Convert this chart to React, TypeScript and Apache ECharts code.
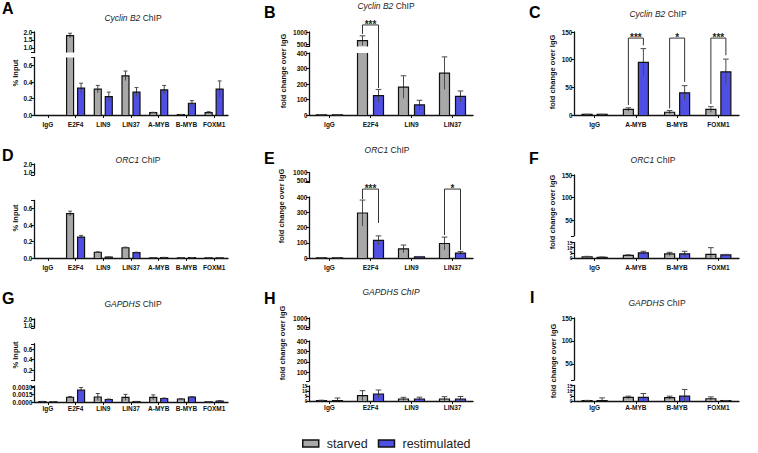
import React, { useEffect, useRef } from "react";
import * as echarts from "echarts";

// ---------- categories ----------
const catsAll = ["IgG", "E2F4", "LIN9", "LIN37", "A-MYB", "B-MYB", "FOXM1"];
const catsE2F = ["IgG", "E2F4", "LIN9", "LIN37"];
const catsMyb = ["IgG", "A-MYB", "B-MYB", "FOXM1"];

// ---------- A: Cyclin B2 ChIP, % input ----------
const aStarved = [0, 1.77, 0.315, 0.477, 0.028, 0.005, 0.03];
const aStarvedErr = [0, 0.15, 0.045, 0.058, 0.005, 0.002, 0.01];
const aRestim = [0, 0.327, 0.224, 0.278, 0.306, 0.143, 0.315];
const aRestimErr = [0, 0.06, 0.055, 0.056, 0.054, 0.032, 0.1];

// ---------- B: Cyclin B2 ChIP, fold change (E2F4 / MuvB) ----------
const bStarved = [1, 640, 180, 270];
const bStarvedErr = [0.3, 200, 73, 105];
const bRestim = [1, 125, 65, 120];
const bRestimErr = [0.3, 40, 30, 35];
const bBrackets = [[1, 523, 174, 581]];
const bStars = ["***"];

// ---------- C: Cyclin B2 ChIP, fold change (MYB / FOXM1) ----------
const cStarved = [1, 10, 5, 10];
const cStarvedErr = [0.3, 3, 3, 5];
const cRestim = [1, 95, 40, 78];
const cRestimErr = [0.3, 25, 13, 23];
const cBrackets = [
  [1, 18, 126, 139],
  [2, 12, 60, 139],
  [3, 20, 108, 139],
];
const cStars = ["***", "*", "***"];

// ---------- D: ORC1 ChIP, % input ----------
const dStarved = [0, 0.54, 0.07, 0.125, 0.002, 0.002, 0.002];
const dStarvedErr = [0, 0.03, 0.005, 0.007, 0.001, 0.001, 0.001];
const dRestim = [0, 0.255, 0.01, 0.065, 0.006, 0.004, 0.001];
const dRestimErr = [0, 0.02, 0.003, 0.006, 0.002, 0.001, 0.001];

// ---------- E: ORC1 ChIP, fold change ----------
const eStarved = [1, 295, 60, 95];
const eStarvedErr = [0.3, 85, 25, 42];
const eRestim = [1, 115, 8, 32];
const eRestimErr = [0.3, 30, 2, 10];
const eBrackets = [
  [1, 387, 230, 452],
  [3, 151, 52, 452],
];
const eStars = ["***", "*"];

// ---------- F: ORC1 ChIP, fold change (MYB / FOXM1) ----------
const fStarved = [1, 2.6, 4, 3.5];
const fStarvedErr = [0.6, 0.5, 1.5, 6.5];
const fRestim = [0.7, 5, 4, 3];
const fRestimErr = [0.3, 1.5, 2.5, 0.5];

// ---------- G: GAPDHS ChIP, % input ----------
const gStarved = [0.0001, 0.00095, 0.001, 0.00093, 0.00093, 0.0006, 0.00003];
const gStarvedErr = [0.00003, 0.00015, 0.0007, 0.0006, 0.0005, 0.0001, 0.00001];
const gRestim = [0.00005, 0.0024, 0.0005, 0.0001, 0.0007, 0.001, 0.0002];
const gRestimErr = [0.00002, 0.0005, 0.0001, 0.00003, 0.0001, 0.0001, 0.0001];

// ---------- H: GAPDHS ChIP, fold change ----------
const hStarved = [0.5, 5.3, 2, 2];
const hStarvedErr = [0.3, 5, 1.7, 2.3];
const hRestim = [0.5, 7, 2, 2];
const hRestimErr = [2.5, 4, 1.8, 2.5];

// ---------- I: GAPDHS ChIP, fold change (MYB / FOXM1) ----------
const iStarved = [0.4, 3.5, 3.2, 2.2];
const iStarvedErr = [0.2, 1.2, 1.5, 1.8];
const iRestim = [0.4, 3.5, 4.7, 0.3];
const iRestimErr = [2.6, 3.7, 6.5, 0.2];

// ---------- tick labels ----------
const ticksPctHigh = [1.0, 1.5, 2.0];
const ticksPctLow = [0, 0.2, 0.4, 0.6];
const ticksPctMid = [0.2, 0.4, 0.6];
const ticksPctTiny = [0, 0.0015, 0.003];
const ticksFoldHigh = [500, 750, 1000];
const ticksFoldLow = [0, 100, 200, 300, 400];
const ticksFoldMid = [100, 200, 300, 400];
const ticksMyb = [0, 50, 100, 150];
const ticksMybHigh = [50, 100, 150];
const ticksSmall = [0, 5, 10, 15];

const FONT = "'Liberation Sans', Arial, Helvetica, sans-serif";
const GRAY = "#a8a8a8";
const BLUE = "#4f4fe4";
const INK = "#111111";
const ERR = "#4a4a4a";
const TXT = "#222222";
const TITLE_SIZE = 8.5;

type Seg = { min: number; max: number; top: number; height: number; ticks: number[]; dec: number; small?: boolean };
type Panel = {
  left: number; width: number; cats: string[];
  s: number[]; se: number[]; r: number[]; re: number[];
  barW: number; gap: number; xMargin: number; segs: Seg[];
  brackets?: { seg: number; data: number[][]; stars: string[] };
};

const panels: Panel[] = [
  { left: 34, width: 194, cats: catsAll, s: aStarved, se: aStarvedErr, r: aRestim, re: aRestimErr, barW: 7, gap: 4, xMargin: 5.5,
    segs: [
      { min: 0.7, max: 2.0, top: 32, height: 20.5, ticks: ticksPctHigh, dec: 1 },
      { min: 0, max: 0.7, top: 57.5, height: 57.5, ticks: ticksPctLow, dec: 1 },
    ] },
  { left: 309, width: 164, cats: catsE2F, s: bStarved, se: bStarvedErr, r: bRestim, re: bRestimErr, barW: 10, gap: 6, xMargin: 5.5,
    segs: [
      { min: 400, max: 1000, top: 32, height: 14.4, ticks: ticksFoldHigh, dec: 0 },
      { min: 0, max: 400, top: 53, height: 62, ticks: ticksFoldLow, dec: 0 },
    ],
    brackets: { seg: 1, data: bBrackets, stars: bStars } },
  { left: 574, width: 165, cats: catsMyb, s: cStarved, se: cStarvedErr, r: cRestim, re: cRestimErr, barW: 10, gap: 5, xMargin: 5.5,
    segs: [{ min: 0, max: 150, top: 32, height: 83, ticks: ticksMyb, dec: 0 }],
    brackets: { seg: 0, data: cBrackets, stars: cStars } },
  { left: 34, width: 194, cats: catsAll, s: dStarved, se: dStarvedErr, r: dRestim, re: dRestimErr, barW: 7, gap: 4, xMargin: 5.5,
    segs: [
      { min: 0.7, max: 2.0, top: 164, height: 11, ticks: ticksPctHigh, dec: 1 },
      { min: 0, max: 0.7, top: 200.5, height: 57.5, ticks: ticksPctLow, dec: 1 },
    ] },
  { left: 309, width: 164, cats: catsE2F, s: eStarved, se: eStarvedErr, r: eRestim, re: eRestimErr, barW: 10, gap: 6, xMargin: 5.5,
    segs: [
      { min: 400, max: 1000, top: 172.5, height: 10, ticks: ticksFoldHigh, dec: 0 },
      { min: 0, max: 400, top: 197, height: 61, ticks: ticksFoldLow, dec: 0 },
    ],
    brackets: { seg: 1, data: eBrackets, stars: eStars } },
  { left: 574, width: 165, cats: catsMyb, s: fStarved, se: fStarvedErr, r: fRestim, re: fRestimErr, barW: 10, gap: 5, xMargin: 5.5,
    segs: [
      { min: 15, max: 150, top: 175, height: 60.75, ticks: ticksMybHigh, dec: 0 },
      { min: 0, max: 15, top: 242.5, height: 15.5, ticks: ticksSmall, dec: 0, small: true },
    ] },
  { left: 34, width: 194, cats: catsAll, s: gStarved, se: gStarvedErr, r: gRestim, re: gRestimErr, barW: 7, gap: 4, xMargin: 3,
    segs: [
      { min: 0.7, max: 2.0, top: 319, height: 9, ticks: ticksPctHigh, dec: 1 },
      { min: 0.003, max: 0.7, top: 343.75, height: 36.75, ticks: ticksPctMid, dec: 1 },
      { min: 0, max: 0.0032, top: 386, height: 16, ticks: ticksPctTiny, dec: 4 },
    ] },
  { left: 309, width: 164, cats: catsE2F, s: hStarved, se: hStarvedErr, r: hRestim, re: hRestimErr, barW: 10, gap: 6, xMargin: 3,
    segs: [
      { min: 400, max: 1000, top: 318, height: 11, ticks: ticksFoldHigh, dec: 0 },
      { min: 15, max: 400, top: 341, height: 40, ticks: ticksFoldMid, dec: 0 },
      { min: 0, max: 15, top: 386, height: 15, ticks: ticksSmall, dec: 0, small: true },
    ] },
  { left: 574, width: 165, cats: catsMyb, s: iStarved, se: iStarvedErr, r: iRestim, re: iRestimErr, barW: 10, gap: 5, xMargin: 3,
    segs: [
      { min: 15, max: 150, top: 318, height: 62, ticks: ticksMybHigh, dec: 0 },
      { min: 0, max: 15, top: 385.5, height: 15.5, ticks: ticksSmall, dec: 0, small: true },
    ] },
];

const letters = [
  { t: "A", x: 2, y: 0 }, { t: "B", x: 264, y: 4 }, { t: "C", x: 529, y: 4 },
  { t: "D", x: 2, y: 147 }, { t: "E", x: 264, y: 150 }, { t: "F", x: 529, y: 150 },
  { t: "G", x: 2, y: 290 }, { t: "H", x: 264, y: 290 }, { t: "I", x: 530, y: 289 },
];

const titles = [
  { gene: "Cyclin B2", x: 133, y: 18, allItalic: false },
  { gene: "Cyclin B2", x: 386, y: 6, allItalic: false },
  { gene: "Cyclin B2", x: 658, y: 14, allItalic: false },
  { gene: "ORC1", x: 138, y: 160, allItalic: false },
  { gene: "ORC1", x: 387, y: 150, allItalic: false },
  { gene: "ORC1", x: 653, y: 160, allItalic: false },
  { gene: "GAPDHS", x: 133, y: 304, allItalic: false },
  { gene: "GAPDHS", x: 391, y: 292, allItalic: true },
  { gene: "GAPDHS", x: 657, y: 303, allItalic: false },
];

const yNames = [
  { t: "% Input", x: 15, y: 73 }, { t: "fold change over IgG", x: 283, y: 71 }, { t: "fold change over IgG", x: 552, y: 72 },
  { t: "% Input", x: 15, y: 218 }, { t: "fold change over IgG", x: 281, y: 206 }, { t: "fold change over IgG", x: 552, y: 212 },
  { t: "% Input", x: 15, y: 355 }, { t: "fold change over IgG", x: 282, y: 343 }, { t: "fold change over IgG", x: 553, y: 361 },
];

let measureCtx: CanvasRenderingContext2D | null = null;
function textWidth(text: string, italic: boolean): number {
  if (!measureCtx) measureCtx = document.createElement("canvas").getContext("2d");
  if (!measureCtx) return text.length * TITLE_SIZE * 0.5;
  measureCtx.font = `${italic ? "italic " : ""}${TITLE_SIZE}px ${FONT}`;
  return measureCtx.measureText(text).width;
}

function makeBar(sign: number, p: Panel, sg: Seg, fill: string) {
  return (params: any, api: any) => {
    const cs = params.coordSys;
    const i = api.value(0);
    const v = api.value(1);
    const e = api.value(2);
    const y0 = cs.y;
    const y1 = cs.y + cs.height;
    const base = api.coord([i, 0]);
    const cx = base[0] + (sign * (p.barW + p.gap)) / 2;
    const l = cx - p.barW / 2;
    const r = cx + p.barW / 2;
    const children: any[] = [];
    const borders: any[] = [];
    if (v > 0 && v > sg.min) {
      const yv = api.coord([i, v])[1];
      const top = Math.max(yv, y0);
      const bot = y1;
      children.push({ type: "rect", shape: { x: l, y: top, width: p.barW, height: Math.max(bot - top, 0) }, style: { fill } });
      if (v <= sg.max) {
        borders.push({ type: "polyline", shape: { points: [[l, bot], [l, top], [r, top], [r, bot]] }, style: { stroke: INK, lineWidth: 1.2, fill: "none" } });
      } else {
        borders.push({ type: "line", shape: { x1: l, y1: top, x2: l, y2: bot }, style: { stroke: INK, lineWidth: 1.2 } });
        borders.push({ type: "line", shape: { x1: r, y1: top, x2: r, y2: bot }, style: { stroke: INK, lineWidth: 1.2 } });
      }
    }
    if (e > 0) {
      const hi = v + e;
      const lo = Math.max(v - e, 0);
      if (hi > sg.min && lo < sg.max) {
        const yHi = api.coord([i, Math.min(hi, sg.max)])[1];
        const yLo = api.coord([i, Math.max(lo, sg.min)])[1];
        if (yLo > yHi) {
          children.push({ type: "line", shape: { x1: cx, y1: yHi, x2: cx, y2: yLo }, style: { stroke: ERR, lineWidth: 1 } });
        }
      }
      if (hi > sg.min && hi <= sg.max) {
        const yCap = api.coord([i, hi])[1];
        const cw = p.barW * 0.28;
        borders.push({ type: "line", shape: { x1: cx - cw, y1: yCap, x2: cx + cw, y2: yCap }, style: { stroke: ERR, lineWidth: 1 } });
      }
    }
    return { type: "group", children: children.concat(borders) };
  };
}

function makeBracket(p: Panel, stars: string[]) {
  return (params: any, api: any) => {
    const i = api.value(0);
    const lv = api.value(1);
    const rv = api.value(2);
    const bv = api.value(3);
    const c = api.coord([i, bv]);
    const yB = c[1];
    const yL = api.coord([i, lv])[1];
    const yR = api.coord([i, rv])[1];
    const half = (p.barW + p.gap) / 2;
    const xL = c[0] - half;
    const xR = c[0] + half;
    return {
      type: "group",
      children: [
        { type: "polyline", shape: { points: [[xL, yL], [xL, yB], [xR, yB], [xR, yR]] }, style: { stroke: "#333", lineWidth: 1, fill: "none" } },
        { type: "text", style: { text: stars[params.dataIndex], x: c[0], y: yB - 0.5, align: "center", verticalAlign: "middle", fontSize: 10, fontWeight: "bold", fill: TXT, fontFamily: FONT } },
      ],
    };
  };
}

function buildOption() {
  const grid: any[] = [];
  const xAxis: any[] = [];
  const yAxis: any[] = [];
  const series: any[] = [];
  panels.forEach((p) => {
    const n = p.segs.length;
    p.segs.forEach((sg, si) => {
      const gi = grid.length;
      const isLast = si === n - 1;
      const isFirst = si === 0;
      grid.push({ left: p.left, top: sg.top, width: p.width, height: sg.height });
      xAxis.push({
        gridIndex: gi, type: "category", data: p.cats, show: isLast, boundaryGap: true,
        axisLine: { onZero: false, lineStyle: { color: INK, width: 1.3 } },
        axisTick: { show: true, alignWithLabel: true, length: 3, lineStyle: { color: INK, width: 1 } },
        axisLabel: { interval: 0, fontSize: 6.5, fontWeight: "bold", color: INK, fontFamily: FONT, margin: p.xMargin },
        splitLine: { show: false },
      });
      const tickVals = [...sg.ticks];
      if (!isLast && !tickVals.includes(sg.min)) tickVals.push(sg.min);
      if (!isFirst && !tickVals.includes(sg.max)) tickVals.push(sg.max);
      yAxis.push({
        gridIndex: gi, type: "value", min: sg.min, max: sg.max,
        axisLine: { show: true, onZero: false, lineStyle: { color: INK, width: 1.3 } },
        axisTick: { show: true, length: 3, customValues: tickVals, lineStyle: { color: INK, width: 1 } },
        axisLabel: {
          customValues: sg.ticks,
          showMinLabel: true, showMaxLabel: true, hideOverlap: false,
          formatter: (v: number) => Number(v).toFixed(sg.dec),
          fontSize: sg.small ? 5 : 6.5, fontWeight: "bold", color: INK, fontFamily: FONT, margin: 1.5,
        },
        splitLine: { show: false },
      });
      series.push({
        type: "custom", name: "starved", coordinateSystem: "cartesian2d", xAxisIndex: gi, yAxisIndex: gi,
        data: p.cats.map((_, i) => [i, p.s[i], p.se[i]]), encode: { x: 0, y: 1 },
        renderItem: makeBar(-1, p, sg, GRAY), silent: true, itemStyle: { color: GRAY },
      });
      series.push({
        type: "custom", name: "restimulated", coordinateSystem: "cartesian2d", xAxisIndex: gi, yAxisIndex: gi,
        data: p.cats.map((_, i) => [i, p.r[i], p.re[i]]), encode: { x: 0, y: 1 },
        renderItem: makeBar(1, p, sg, BLUE), silent: true, itemStyle: { color: BLUE },
      });
      if (p.brackets && p.brackets.seg === si) {
        series.push({
          type: "custom", name: "sig", coordinateSystem: "cartesian2d", xAxisIndex: gi, yAxisIndex: gi,
          data: p.brackets.data, encode: { x: 0, y: 3 }, clip: false,
          renderItem: makeBracket(p, p.brackets.stars), silent: true,
        });
      }
    });
  });

  const graphic: any[] = [];
  letters.forEach((l) => {
    graphic.push({ type: "text", x: l.x, y: l.y, style: { text: l.t, fontSize: 16, fontWeight: "bold", fill: "#000", fontFamily: FONT, verticalAlign: "top" } });
  });
  titles.forEach((t) => {
    const part1 = t.allItalic ? `${t.gene} ChIP` : t.gene;
    const part2 = t.allItalic ? "" : " ChIP";
    const w1 = textWidth(part1, true);
    const w2 = part2 ? textWidth(part2, false) : 0;
    const x0 = t.x - (w1 + w2) / 2;
    graphic.push({
      type: "text", x: x0, y: t.y,
      style: { text: part1, align: "left", verticalAlign: "middle", fontSize: TITLE_SIZE, fontStyle: "italic", fill: TXT, fontFamily: FONT },
    });
    if (part2) {
      graphic.push({
        type: "text", x: x0 + w1, y: t.y,
        style: { text: part2, align: "left", verticalAlign: "middle", fontSize: TITLE_SIZE, fill: TXT, fontFamily: FONT },
      });
    }
  });
  yNames.forEach((n) => {
    graphic.push({
      type: "text", x: n.x, y: n.y, rotation: Math.PI / 2,
      style: { text: n.t, align: "center", verticalAlign: "middle", fontSize: 7.5, fontWeight: "bold", fill: INK, fontFamily: FONT },
    });
  });

  return {
    animation: false,
    backgroundColor: "#ffffff",
    grid, xAxis, yAxis, series, graphic,
    legend: {
      left: 297, top: 432, itemWidth: 16, itemHeight: 7, itemGap: 10, icon: "rect", selectedMode: false,
      data: [
        { name: "starved", itemStyle: { color: GRAY, borderColor: INK, borderWidth: 1.5 } },
        { name: "restimulated", itemStyle: { color: BLUE, borderColor: INK, borderWidth: 1.5 } },
      ],
      textStyle: { fontSize: 12.5, color: TXT, fontFamily: FONT, padding: [0, 0, 0, 3] },
    },
  };
}

export default function App() {
  const ref = useRef<HTMLDivElement>(null);
  useEffect(() => {
    if (!ref.current) return;
    const chart = echarts.init(ref.current, null, { renderer: "svg" });
    chart.setOption(buildOption() as any);
    return () => chart.dispose();
  }, []);
  return <div ref={ref} style={{ position: "absolute", left: 0, top: 0, width: 758, height: 453, background: "#fff" }} />;
}
